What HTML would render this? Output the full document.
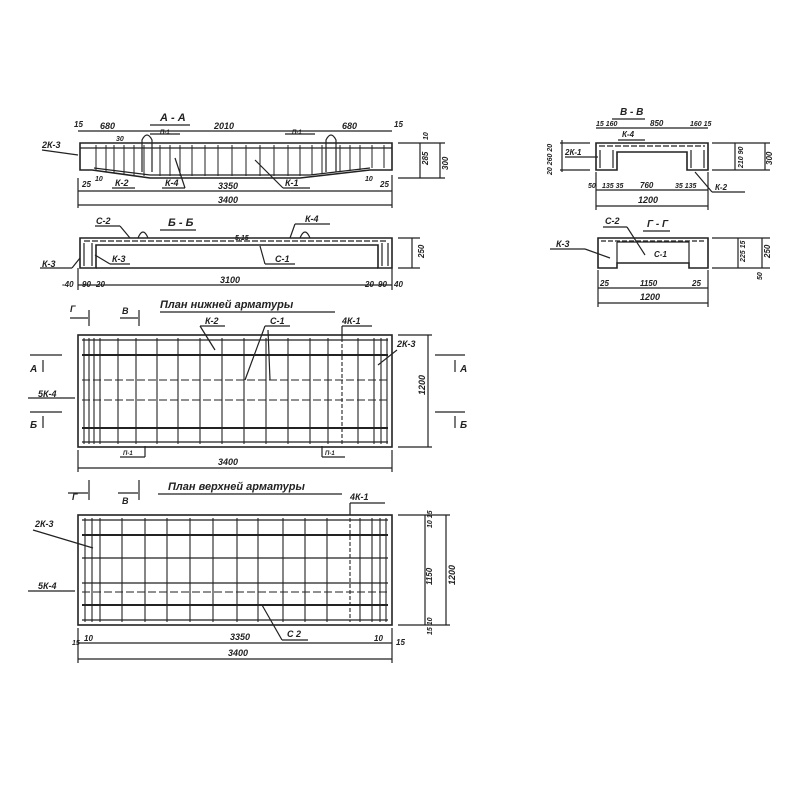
<!DOCTYPE html>
<html><head><meta charset="utf-8"><style>
html,body{margin:0;padding:0;background:#fff}
svg{display:block}
text{font-family:"Liberation Sans",sans-serif;font-style:italic;fill:#222;font-weight:600}
</style></head><body>
<svg width="800" height="800" viewBox="0 0 800 800" xmlns="http://www.w3.org/2000/svg" stroke="#222" fill="none" stroke-width="1.2">
<!-- ===== A-A ===== -->
<g>
<text x="160" y="121" font-size="11" stroke="none">А - А</text>
<line x1="150" y1="125" x2="190" y2="125"/>
<line x1="78" y1="131" x2="392" y2="131"/>
<text x="100" y="129" font-size="9" stroke="none">680</text>
<text x="214" y="129" font-size="9" stroke="none">2010</text>
<text x="342" y="129" font-size="9" stroke="none">680</text>
<text x="74" y="127" font-size="8" stroke="none">15</text>
<text x="394" y="127" font-size="8" stroke="none">15</text>
<path d="M80 143 L392 143 L392 170 L370 170 L300 178 L150 178 L92 170 L80 170 Z" stroke-width="1.6"/>
<line x1="80" y1="148" x2="392" y2="148"/>
<line x1="94" y1="168" x2="150" y2="175"/>
<line x1="150" y1="175" x2="310" y2="175"/>
<line x1="310" y1="175" x2="370" y2="168"/>
<g stroke-width="1">
<line x1="96" y1="145" x2="96" y2="170"/><line x1="106" y1="145" x2="106" y2="172"/><line x1="114" y1="145" x2="114" y2="173"/>
<line x1="124" y1="145" x2="124" y2="174"/><line x1="134" y1="145" x2="134" y2="175"/><line x1="144" y1="145" x2="144" y2="176"/>
<line x1="160" y1="145" x2="160" y2="176"/><line x1="170" y1="145" x2="170" y2="176"/><line x1="180" y1="145" x2="180" y2="176"/>
<line x1="192" y1="145" x2="192" y2="176"/><line x1="205" y1="145" x2="205" y2="176"/><line x1="218" y1="145" x2="218" y2="176"/>
<line x1="232" y1="145" x2="232" y2="176"/><line x1="246" y1="145" x2="246" y2="176"/><line x1="260" y1="145" x2="260" y2="176"/>
<line x1="274" y1="145" x2="274" y2="176"/><line x1="288" y1="145" x2="288" y2="176"/><line x1="300" y1="145" x2="300" y2="176"/>
<line x1="312" y1="145" x2="312" y2="175"/><line x1="322" y1="145" x2="322" y2="174"/><line x1="340" y1="145" x2="340" y2="172"/>
<line x1="350" y1="145" x2="350" y2="171"/><line x1="360" y1="145" x2="360" y2="170"/><line x1="372" y1="145" x2="372" y2="168"/>
<line x1="384" y1="145" x2="384" y2="168"/>
</g>
<path d="M142 172 L142 140 Q147 130 152 140 L152 172"/>
<path d="M326 172 L326 140 Q331 130 336 140 L336 172"/>
<line x1="150" y1="134" x2="180" y2="134"/><text x="160" y="134" font-size="6" stroke="none">П-1</text>
<line x1="285" y1="134" x2="315" y2="134"/><text x="292" y="134" font-size="6" stroke="none">П-1</text>
<text x="116" y="141" font-size="7" stroke="none">30</text>
<text x="42" y="148" font-size="9" stroke="none">2К-3</text>
<line x1="42" y1="150" x2="78" y2="155"/>
<text x="115" y="186" font-size="9" stroke="none">К-2</text>
<line x1="112" y1="188" x2="135" y2="188"/>
<text x="165" y="186" font-size="9" stroke="none">К-4</text>
<line x1="162" y1="188" x2="185" y2="188"/>
<line x1="185" y1="188" x2="175" y2="158"/>
<text x="285" y="186" font-size="9" stroke="none">К-1</text>
<line x1="283" y1="188" x2="310" y2="188"/><line x1="283" y1="188" x2="255" y2="160"/>
<text x="82" y="187" font-size="8" stroke="none">25</text><text x="95" y="181" font-size="7" stroke="none">10</text>
<text x="365" y="181" font-size="7" stroke="none">10</text><text x="380" y="187" font-size="8" stroke="none">25</text>
<line x1="78" y1="191" x2="392" y2="191"/>
<text x="218" y="189" font-size="9" stroke="none">3350</text>
<line x1="78" y1="205" x2="392" y2="205"/>
<text x="218" y="203" font-size="9" stroke="none">3400</text>
<line x1="78" y1="178" x2="78" y2="208"/><line x1="392" y1="175" x2="392" y2="208"/>
<line x1="398" y1="143" x2="445" y2="143"/><line x1="398" y1="178" x2="445" y2="178"/>
<line x1="420" y1="143" x2="420" y2="178"/><line x1="440" y1="143" x2="440" y2="178"/>
<text font-size="8" stroke="none" transform="translate(428,165) rotate(-90)">285</text>
<text font-size="8" stroke="none" transform="translate(448,170) rotate(-90)">300</text>
<text font-size="7" stroke="none" transform="translate(428,140) rotate(-90)">10</text>
</g>
<!-- ===== Б-Б ===== -->
<g>
<text x="168" y="226" font-size="11" stroke="none">Б - Б</text>
<line x1="160" y1="230" x2="196" y2="230"/>
<path d="M80 238 L392 238 L392 268 L378 268 L378 245 L96 245 L96 268 L80 268 Z" stroke-width="1.6"/>
<line x1="96" y1="268" x2="378" y2="268" stroke-width="1.6"/>
<line x1="84" y1="241" x2="388" y2="241" stroke-dasharray="6 2"/>
<line x1="84" y1="243" x2="84" y2="266"/><line x1="92" y1="243" x2="92" y2="266"/>
<line x1="382" y1="243" x2="382" y2="266"/><line x1="388" y1="243" x2="388" y2="266"/>
<path d="M138 238 Q143 226 148 238"/><path d="M300 238 Q305 226 310 238"/>
<text x="96" y="224" font-size="9" stroke="none">С-2</text>
<line x1="95" y1="226" x2="120" y2="226"/><line x1="120" y1="226" x2="130" y2="238"/>
<text x="305" y="222" font-size="9" stroke="none">К-4</text>
<line x1="295" y1="224" x2="330" y2="224"/><line x1="295" y1="224" x2="290" y2="238"/>
<text x="275" y="262" font-size="9" stroke="none">С-1</text>
<line x1="265" y1="264" x2="295" y2="264"/><line x1="265" y1="264" x2="260" y2="246"/>
<text x="112" y="262" font-size="9" stroke="none">К-3</text>
<line x1="110" y1="264" x2="130" y2="264"/><line x1="110" y1="264" x2="95" y2="255"/>
<text x="42" y="267" font-size="9" stroke="none">К-3</text>
<line x1="40" y1="268" x2="72" y2="268"/><line x1="72" y1="268" x2="80" y2="258"/>
<text x="235" y="240" font-size="7" stroke="none">5,15</text>
<line x1="78" y1="285" x2="392" y2="285"/>
<text x="220" y="283" font-size="9" stroke="none">3100</text>
<text x="62" y="287" font-size="8" stroke="none">-40</text><text x="82" y="287" font-size="8" stroke="none">90</text><text x="96" y="287" font-size="8" stroke="none">20</text>
<text x="365" y="287" font-size="8" stroke="none">20</text><text x="378" y="287" font-size="8" stroke="none">90</text><text x="394" y="287" font-size="8" stroke="none">40</text>
<line x1="78" y1="268" x2="78" y2="290"/><line x1="392" y1="268" x2="392" y2="290"/>
<line x1="398" y1="238" x2="420" y2="238"/><line x1="398" y1="268" x2="420" y2="268"/><line x1="412" y1="238" x2="412" y2="268"/>
<text font-size="8" stroke="none" transform="translate(424,258) rotate(-90)">250</text>
</g>
<!-- ===== Plan lower ===== -->
<g>
<text x="160" y="308" font-size="11" stroke="none">План  нижней  арматуры</text>
<line x1="160" y1="312" x2="335" y2="312"/>
<text x="70" y="312" font-size="9" stroke="none">Г</text><line x1="70" y1="318" x2="88" y2="318"/><line x1="89" y1="310" x2="89" y2="326"/>
<text x="122" y="314" font-size="9" stroke="none">В</text><line x1="120" y1="318" x2="138" y2="318"/><line x1="139" y1="310" x2="139" y2="326"/>
<rect x="78" y="335" width="314" height="112" stroke-width="1.6"/>
<g stroke-width="1.3">
<line x1="82" y1="340" x2="388" y2="340"/><line x1="82" y1="355" x2="388" y2="355" stroke-width="2"/>
<line x1="82" y1="380" x2="388" y2="380" stroke-dasharray="8 3" stroke-width="1"/><line x1="82" y1="400" x2="388" y2="400" stroke-dasharray="8 3" stroke-width="1"/>
<line x1="82" y1="428" x2="388" y2="428" stroke-width="2"/><line x1="82" y1="442" x2="388" y2="442"/>
</g>
<g stroke-width="1.1">
<line x1="84" y1="338" x2="84" y2="444"/><line x1="89" y1="338" x2="89" y2="444"/><line x1="94" y1="338" x2="94" y2="444"/>
<line x1="100" y1="338" x2="100" y2="444"/><line x1="118" y1="338" x2="118" y2="444"/>
<line x1="136" y1="338" x2="136" y2="444"/><line x1="157" y1="338" x2="157" y2="444"/>
<line x1="178" y1="338" x2="178" y2="444"/><line x1="200" y1="338" x2="200" y2="444"/>
<line x1="222" y1="338" x2="222" y2="444"/><line x1="244" y1="338" x2="244" y2="444"/>
<line x1="266" y1="338" x2="266" y2="444"/><line x1="288" y1="338" x2="288" y2="444"/>
<line x1="310" y1="338" x2="310" y2="444"/><line x1="328" y1="338" x2="328" y2="444"/>
<line x1="342" y1="338" x2="342" y2="444" stroke-dasharray="4 2"/><line x1="358" y1="338" x2="358" y2="444"/>
<line x1="374" y1="338" x2="374" y2="444"/><line x1="381" y1="338" x2="381" y2="444"/><line x1="387" y1="338" x2="387" y2="444"/>
</g>
<text x="205" y="324" font-size="9" stroke="none">К-2</text><line x1="200" y1="326" x2="225" y2="326"/><line x1="200" y1="326" x2="215" y2="350"/>
<text x="270" y="324" font-size="9" stroke="none">С-1</text><line x1="265" y1="326" x2="290" y2="326"/><line x1="265" y1="326" x2="245" y2="380"/><line x1="268" y1="330" x2="270" y2="380"/>
<text x="342" y="324" font-size="9" stroke="none">4К-1</text><line x1="342" y1="326" x2="372" y2="326"/><line x1="342" y1="326" x2="342" y2="338"/>
<text x="397" y="347" font-size="9" stroke="none">2К-3</text><line x1="397" y1="350" x2="378" y2="365"/>
<text x="38" y="397" font-size="9" stroke="none">5К-4</text><line x1="28" y1="398" x2="75" y2="398"/>
<text x="30" y="372" font-size="10" stroke="none">А</text><line x1="30" y1="355" x2="62" y2="355"/><line x1="43" y1="360" x2="43" y2="372"/>
<text x="30" y="428" font-size="10" stroke="none">Б</text><line x1="30" y1="412" x2="62" y2="412"/><line x1="43" y1="416" x2="43" y2="428"/>
<text x="460" y="372" font-size="10" stroke="none">А</text><line x1="435" y1="355" x2="465" y2="355"/><line x1="455" y1="360" x2="455" y2="372"/>
<text x="460" y="428" font-size="10" stroke="none">Б</text><line x1="435" y1="412" x2="465" y2="412"/><line x1="455" y1="416" x2="455" y2="428"/>
<line x1="398" y1="335" x2="432" y2="335"/><line x1="398" y1="447" x2="432" y2="447"/><line x1="428" y1="335" x2="428" y2="447"/>
<text font-size="9" stroke="none" transform="translate(425,395) rotate(-90)">1200</text>
<text x="123" y="455" font-size="6" stroke="none">П-1</text><line x1="120" y1="457" x2="145" y2="457"/><line x1="145" y1="446" x2="145" y2="457"/>
<text x="325" y="455" font-size="6" stroke="none">П-1</text><line x1="322" y1="457" x2="345" y2="457"/><line x1="322" y1="446" x2="322" y2="457"/>
<line x1="78" y1="468" x2="392" y2="468"/><text x="218" y="465" font-size="9" stroke="none">3400</text>
<line x1="78" y1="450" x2="78" y2="472"/><line x1="392" y1="450" x2="392" y2="472"/>
</g>
<!-- ===== Plan upper ===== -->
<g>
<text x="168" y="490" font-size="11" stroke="none">План  верхней  арматуры</text>
<line x1="158" y1="494" x2="342" y2="494"/>
<text x="72" y="500" font-size="9" stroke="none">Г</text><line x1="68" y1="493" x2="88" y2="493"/><line x1="89" y1="480" x2="89" y2="500"/>
<text x="122" y="504" font-size="9" stroke="none">В</text><line x1="118" y1="493" x2="138" y2="493"/><line x1="139" y1="480" x2="139" y2="500"/>
<rect x="78" y="515" width="314" height="110" stroke-width="1.6"/>
<g stroke-width="1.3">
<line x1="82" y1="520" x2="388" y2="520"/><line x1="82" y1="535" x2="388" y2="535" stroke-width="2"/>
<line x1="82" y1="558" x2="388" y2="558"/><line x1="82" y1="583" x2="388" y2="583"/>
<line x1="82" y1="592" x2="388" y2="592" stroke-dasharray="8 3" stroke-width="1"/>
<line x1="82" y1="605" x2="388" y2="605" stroke-width="2"/><line x1="82" y1="620" x2="388" y2="620"/>
</g>
<g stroke-width="1.1">
<line x1="85" y1="518" x2="85" y2="622"/><line x1="92" y1="518" x2="92" y2="622"/><line x1="100" y1="518" x2="100" y2="622"/>
<line x1="122" y1="518" x2="122" y2="622"/><line x1="145" y1="518" x2="145" y2="622"/><line x1="167" y1="518" x2="167" y2="622"/>
<line x1="190" y1="518" x2="190" y2="622"/><line x1="213" y1="518" x2="213" y2="622"/><line x1="237" y1="518" x2="237" y2="622"/>
<line x1="258" y1="518" x2="258" y2="622"/><line x1="283" y1="518" x2="283" y2="622"/><line x1="305" y1="518" x2="305" y2="622"/>
<line x1="327" y1="518" x2="327" y2="622"/><line x1="350" y1="518" x2="350" y2="622" stroke-dasharray="4 2"/>
<line x1="360" y1="518" x2="360" y2="622"/><line x1="372" y1="518" x2="372" y2="622"/><line x1="380" y1="518" x2="380" y2="622"/><line x1="386" y1="518" x2="386" y2="622"/>
</g>
<text x="350" y="500" font-size="9" stroke="none">4К-1</text><line x1="350" y1="503" x2="385" y2="503"/><line x1="350" y1="503" x2="350" y2="515"/>
<text x="35" y="527" font-size="9" stroke="none">2К-3</text><line x1="33" y1="530" x2="93" y2="548"/>
<text x="38" y="589" font-size="9" stroke="none">5К-4</text><line x1="28" y1="591" x2="75" y2="591"/>
<text x="287" y="637" font-size="9" stroke="none">С 2</text><line x1="282" y1="640" x2="308" y2="640"/><line x1="282" y1="640" x2="262" y2="605"/>
<line x1="398" y1="515" x2="450" y2="515"/><line x1="398" y1="625" x2="450" y2="625"/>
<line x1="425" y1="515" x2="425" y2="625"/><line x1="446" y1="515" x2="446" y2="625"/>
<text font-size="8" stroke="none" transform="translate(432,585) rotate(-90)">1150</text>
<text font-size="9" stroke="none" transform="translate(455,585) rotate(-90)">1200</text>
<text font-size="7" stroke="none" transform="translate(432,528) rotate(-90)">10 15</text>
<text font-size="7" stroke="none" transform="translate(432,635) rotate(-90)">15 10</text>
<line x1="78" y1="643" x2="392" y2="643"/><text x="230" y="640" font-size="9" stroke="none">3350</text>
<text x="72" y="645" font-size="7" stroke="none">15</text><text x="84" y="641" font-size="8" stroke="none">10</text>
<text x="374" y="641" font-size="8" stroke="none">10</text><text x="396" y="645" font-size="8" stroke="none">15</text>
<line x1="78" y1="659" x2="392" y2="659"/><text x="228" y="656" font-size="9" stroke="none">3400</text>
<line x1="78" y1="628" x2="78" y2="663"/><line x1="392" y1="628" x2="392" y2="663"/>
</g>
<!-- ===== В-В ===== -->
<g>
<text x="620" y="115" font-size="10" stroke="none">В - В</text>
<line x1="612" y1="119" x2="645" y2="119"/>
<line x1="596" y1="128" x2="708" y2="128"/>
<text x="596" y="126" font-size="7" stroke="none">15 160</text>
<text x="650" y="126" font-size="8" stroke="none">850</text>
<text x="690" y="126" font-size="7" stroke="none">160 15</text>
<path d="M596 143 L708 143 L708 170 L687 170 L687 152 L617 152 L617 170 L596 170 Z" stroke-width="1.6"/>
<line x1="599" y1="146" x2="705" y2="146" stroke-dasharray="6 2"/>
<line x1="600" y1="150" x2="600" y2="168"/><line x1="613" y1="150" x2="613" y2="168"/>
<line x1="691" y1="150" x2="691" y2="168"/><line x1="704" y1="150" x2="704" y2="168"/>
<text x="622" y="137" font-size="8" stroke="none">К-4</text><line x1="618" y1="140" x2="645" y2="140"/>
<text x="565" y="155" font-size="8" stroke="none">2К-1</text><line x1="565" y1="157" x2="598" y2="157"/>
<text x="715" y="190" font-size="8" stroke="none">К-2</text><line x1="712" y1="192" x2="745" y2="192"/><line x1="712" y1="192" x2="695" y2="172"/>
<line x1="560" y1="143" x2="590" y2="143"/><line x1="560" y1="170" x2="590" y2="170"/>
<line x1="562" y1="140" x2="562" y2="172"/>
<text font-size="7" stroke="none" transform="translate(552,175) rotate(-90)">20 260 20</text>
<line x1="712" y1="143" x2="770" y2="143"/><line x1="712" y1="170" x2="770" y2="170"/>
<line x1="735" y1="143" x2="735" y2="170"/><line x1="765" y1="143" x2="765" y2="170"/>
<text font-size="7" stroke="none" transform="translate(743,168) rotate(-90)">210 90</text>
<text font-size="8" stroke="none" transform="translate(772,165) rotate(-90)">300</text>
<line x1="596" y1="190" x2="708" y2="190"/>
<text x="588" y="188" font-size="7" stroke="none">50</text><text x="602" y="188" font-size="7" stroke="none">135 35</text>
<text x="640" y="188" font-size="8" stroke="none">760</text><text x="675" y="188" font-size="7" stroke="none">35 135</text>
<line x1="596" y1="206" x2="708" y2="206"/><text x="638" y="203" font-size="9" stroke="none">1200</text>
<line x1="596" y1="172" x2="596" y2="210"/><line x1="708" y1="172" x2="708" y2="210"/>
</g>
<!-- ===== Г-Г ===== -->
<g>
<text x="605" y="224" font-size="9" stroke="none">С-2</text><line x1="603" y1="227" x2="627" y2="227"/><line x1="627" y1="227" x2="645" y2="255"/>
<text x="647" y="227" font-size="10" stroke="none">Г - Г</text><line x1="643" y1="231" x2="670" y2="231"/>
<path d="M598 238 L708 238 L708 268 L689 268 L689 263 L617 263 L617 268 L598 268 Z" stroke-width="1.6"/>
<line x1="617" y1="242" x2="689" y2="242"/><line x1="617" y1="242" x2="617" y2="263"/><line x1="689" y1="242" x2="689" y2="263"/>
<line x1="601" y1="241" x2="705" y2="241" stroke-dasharray="5 2"/>
<text x="654" y="257" font-size="8" stroke="none">С-1</text>
<text x="556" y="247" font-size="9" stroke="none">К-3</text><line x1="550" y1="249" x2="585" y2="249"/><line x1="585" y1="249" x2="610" y2="258"/>
<line x1="712" y1="238" x2="770" y2="238"/><line x1="712" y1="268" x2="770" y2="268"/>
<line x1="738" y1="238" x2="738" y2="268"/><line x1="762" y1="238" x2="762" y2="268"/>
<text font-size="7" stroke="none" transform="translate(745,262) rotate(-90)">225 15</text>
<text font-size="8" stroke="none" transform="translate(770,258) rotate(-90)">250</text>
<text font-size="7" stroke="none" transform="translate(762,280) rotate(-90)">50</text>
<line x1="598" y1="288" x2="708" y2="288"/>
<text x="600" y="286" font-size="8" stroke="none">25</text><text x="640" y="286" font-size="8" stroke="none">1150</text><text x="692" y="286" font-size="8" stroke="none">25</text>
<line x1="598" y1="303" x2="708" y2="303"/><text x="640" y="300" font-size="9" stroke="none">1200</text>
<line x1="598" y1="270" x2="598" y2="307"/><line x1="708" y1="270" x2="708" y2="307"/>
</g>
</svg>
</body></html>
